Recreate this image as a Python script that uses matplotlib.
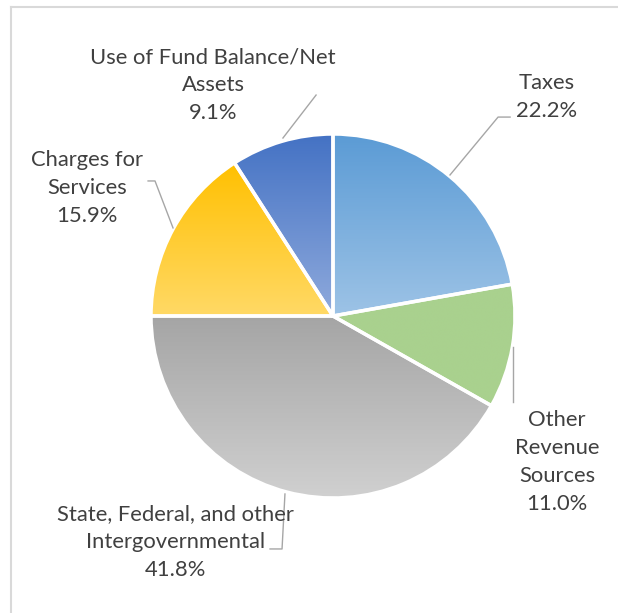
"""
Revenue sources pie chart with Excel-style vertical gradient fills.
"""

import numpy as np
import matplotlib

matplotlib.use("Agg")
import matplotlib.pyplot as plt
from matplotlib.colors import LinearSegmentedColormap

categories = [
    "Taxes",
    "Other Revenue Sources",
    "State, Federal, and other Intergovernmental",
    "Charges for Services",
    "Use of Fund Balance/Net Assets",
]
shares = [22.2, 11.0, 41.8, 15.9, 9.1]
label_names = [
    "Taxes",
    "Other\nRevenue\nSources",
    "State, Federal, and other\nIntergovernmental",
    "Charges for\nServices",
    "Use of Fund Balance/Net\nAssets",
]

# gradient end colours per slice (top -> bottom)
top_colors = ["#5b9bd5", "#a9d18e", "#a5a5a5", "#ffc000", "#4472c4"]
bottom_colors = ["#9dc3e6", "#a9d18e", "#d0d0d0", "#ffd966", "#8faadc"]

# label centres and leader polylines, in pie-radius units
label_pos = [(1.176, 1.203), (1.231, -0.802), (-0.863, -1.242),
             (-1.352, 0.703), (-0.659, 1.269)]
leaders = [
    [(0.973, 1.093), (0.907, 1.093), (0.643, 0.775)],
    [(0.989, -0.170), (0.989, -0.473)],
    [(-0.264, -0.978), (-0.280, -1.280), (-0.346, -1.280)],
    [(-1.016, 0.742), (-0.978, 0.742), (-0.879, 0.484)],
    [(-0.093, 1.214), (-0.275, 0.978)],
]

TEXT = "#404040"
LEADER = "#a6a6a6"

plt.rcParams["font.family"] = ["Lato", "DejaVu Sans"]

fig = plt.figure(figsize=(6.18, 6.13), dpi=100)
ax = fig.add_axes([0, 0, 1, 1])
ax.set_axis_off()

wedges, _ = ax.pie(
    shares,
    startangle=90,
    counterclock=False,
    radius=1.0,
    wedgeprops=dict(edgecolor="white", linewidth=2.5, facecolor="none", zorder=3),
)

for w, c0, c1 in zip(wedges, top_colors, bottom_colors):
    w.set_facecolor("none")
    bb = w.get_path().get_extents()
    cmap = LinearSegmentedColormap.from_list("g", [c0, c1])
    grad = np.linspace(0, 1, 256).reshape(-1, 1)
    im = ax.imshow(
        grad,
        cmap=cmap,
        extent=[bb.x0, bb.x1, bb.y0, bb.y1],
        origin="upper",
        aspect="auto",
        zorder=2,
        interpolation="bilinear",
    )
    im.set_clip_path(w)

for name, pct, (tx, ty), line in zip(label_names, shares, label_pos, leaders):
    ax.text(tx, ty, f"{name}\n{pct:.1f}%", ha="center", va="center",
            fontsize=15.8, color=TEXT, linespacing=1.5, zorder=5)
    xs, ys = zip(*line)
    ax.plot(xs, ys, color=LEADER, linewidth=1.0, zorder=4)

# pie centre sits at (333, 316) px with a 182 px radius
ax.set_xlim(-333 / 182, (618 - 333) / 182)
ax.set_ylim(-(613 - 316) / 182, 316 / 182)
ax.set_aspect("equal")

# chart area frame (left and top edges only fall inside the image)
fig.add_artist(plt.Line2D([11 / 618, 11 / 618], [0, 1 - 7 / 613],
                          transform=fig.transFigure, color="#d9d9d9", lw=1.5))
fig.add_artist(plt.Line2D([11 / 618, 1], [1 - 7 / 613, 1 - 7 / 613],
                          transform=fig.transFigure, color="#d9d9d9", lw=1.5))

fig.savefig("out.png", dpi=100)
